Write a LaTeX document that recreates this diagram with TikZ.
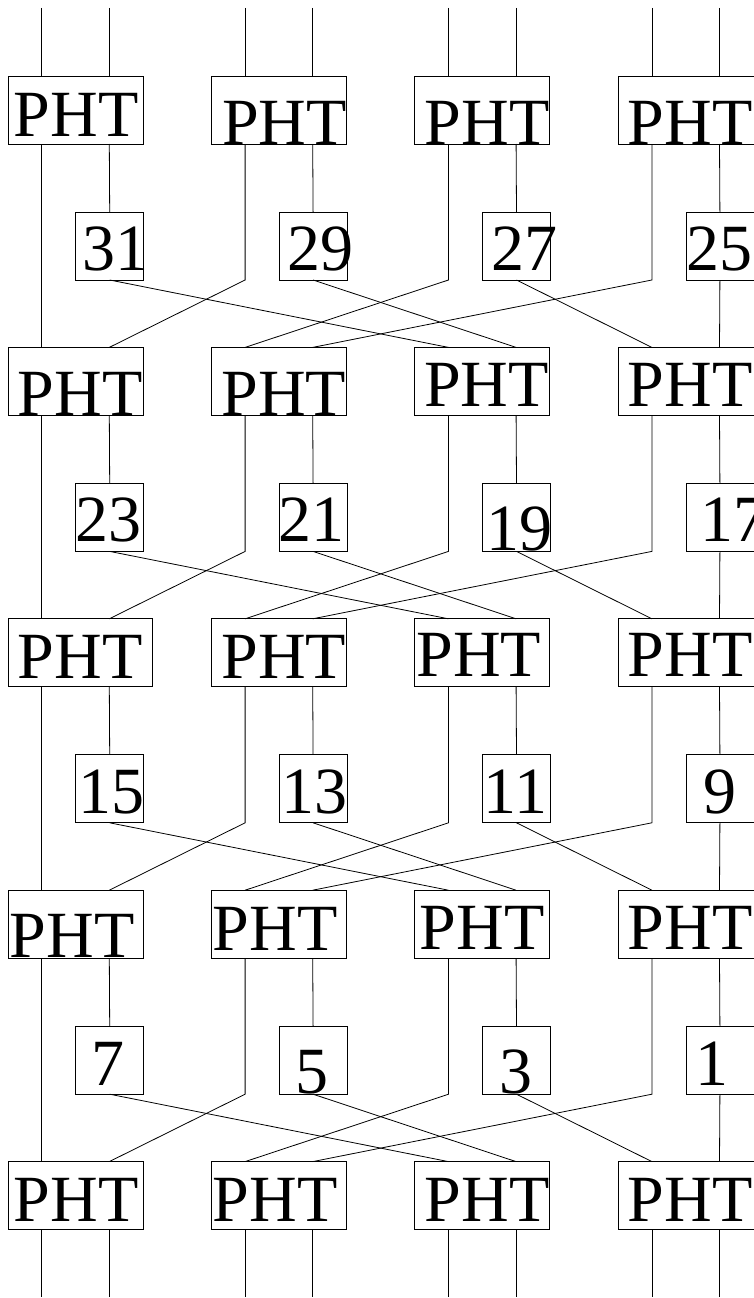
\documentclass[tikz,border=0pt]{standalone}
\usepackage{fontspec}
\setmainfont{Liberation Serif}
\begin{document}
\begin{tikzpicture}[x=1pt,y=-1pt,
  box/.style={draw, rectangle, inner sep=0pt, outer sep=0pt, line width=0.8pt, anchor=north west},
  phtbox/.style={box, minimum width=135pt, minimum height=68pt},
  widebox/.style={box, minimum width=144pt, minimum height=68pt},
  edgebox/.style={box, minimum width=137pt, minimum height=68pt},
  numbox/.style={box, minimum width=68pt, minimum height=68pt},
  edgenum/.style={box, minimum width=69.5pt, minimum height=68pt},
  lbl/.style={inner sep=0pt, outer sep=0pt, anchor=base, font=\fontsize{66}{66}\selectfont},
  wire/.style={line width=0.8pt}]
\useasboundingbox (0,0) rectangle (754,1298);
% PHT boxes
\node[phtbox] (p-1-1) at (8,76) {};
\node[phtbox] (p-1-2) at (211.4,76) {};
\node[phtbox] (p-1-3) at (414.8,76) {};
\node[edgebox] (p-1-4) at (618.2,76) {};
\node[phtbox] (p-2-1) at (8,347.4) {};
\node[phtbox] (p-2-2) at (211.4,347.4) {};
\node[phtbox] (p-2-3) at (414.8,347.4) {};
\node[edgebox] (p-2-4) at (618.2,347.4) {};
\node[widebox] (p-3-1) at (8,618.8) {};
\node[phtbox] (p-3-2) at (211.4,618.8) {};
\node[phtbox] (p-3-3) at (414.8,618.8) {};
\node[edgebox] (p-3-4) at (618.2,618.8) {};
\node[phtbox] (p-4-1) at (8,890.2) {};
\node[phtbox] (p-4-2) at (211.4,890.2) {};
\node[phtbox] (p-4-3) at (414.8,890.2) {};
\node[edgebox] (p-4-4) at (618.2,890.2) {};
\node[phtbox] (p-5-1) at (8,1161.6) {};
\node[phtbox] (p-5-2) at (211.4,1161.6) {};
\node[phtbox] (p-5-3) at (414.8,1161.6) {};
\node[edgebox] (p-5-4) at (618.2,1161.6) {};
% number boxes
\foreach \r/\y in {1/212,2/483.4,3/754.8,4/1026.2}{
  \foreach \c/\x in {1/75.7,2/279.1,3/482.5}{
    \node[numbox] (n-\r-\c) at (\x,\y) {};
  }
  \node[edgenum] (n-\r-4) at (685.9,\y) {};
}
% PHT labels
\node[lbl] (t-1-1) at (76,136.7) {PHT};
\node[lbl] (t-1-2) at (284.5,144) {PHT};
\node[lbl] (t-1-3) at (487,144) {PHT};
\node[lbl] (t-1-4) at (690,144) {PHT};
\node[lbl] (t-2-1) at (80,415) {PHT};
\node[lbl] (t-2-2) at (283.7,415) {PHT};
\node[lbl] (t-2-3) at (486.5,406) {PHT};
\node[lbl] (t-2-4) at (690,406) {PHT};
\node[lbl] (t-3-1) at (80,678) {PHT};
\node[lbl] (t-3-2) at (283.8,678) {PHT};
\node[lbl] (t-3-3) at (478.7,676) {PHT};
\node[lbl] (t-3-4) at (690,676) {PHT};
\node[lbl] (t-4-1) at (72,957.7) {PHT};
\node[lbl] (t-4-2) at (275.3,950) {PHT};
\node[lbl] (t-4-3) at (482,949) {PHT};
\node[lbl] (t-4-4) at (690,949) {PHT};
\node[lbl] (t-5-1) at (76,1221) {PHT};
\node[lbl] (t-5-2) at (275,1221.7) {PHT};
\node[lbl] (t-5-3) at (487,1221.7) {PHT};
\node[lbl] (t-5-4) at (690,1221.7) {PHT};
% number labels
\node[lbl] (m-1-1) at (115,270.7) {31};
\node[lbl] (m-1-2) at (320.8,270.7) {29};
\node[lbl] (m-1-3) at (524,270.7) {27};
\node[lbl] (m-1-4) at (719,270.7) {25};
\node[lbl] (m-2-1) at (108,541.7) {23};
\node[lbl] (m-2-2) at (311,541.7) {21};
\node[lbl] (m-2-3) at (519,550) {19};
\node[lbl] (m-2-4) at (733,541.7) {17};
\node[lbl] (m-3-1) at (111,813) {15};
\node[lbl] (m-3-2) at (314,813) {13};
\node[lbl] (m-3-3) at (515.5,813) {11};
\node[lbl] (m-3-4) at (720,813) {9};
\node[lbl] (m-4-1) at (108,1085) {7};
\node[lbl] (m-4-2) at (312,1093.3) {5};
\node[lbl] (m-4-3) at (516,1093.3) {3};
\node[lbl] (m-4-4) at (712,1085) {1};
% input and output wires
\foreach \c in {1,2,3,4}{
  \coordinate (in-\c-a) at ([xshift=33.7pt,yshift=68pt]p-1-\c.north west);
  \coordinate (in-\c-b) at ([xshift=101.3pt,yshift=68pt]p-1-\c.north west);
  \draw[wire] (in-\c-a) -- ([xshift=33.7pt]p-1-\c.north west);
  \draw[wire] (in-\c-b) -- ([xshift=101.3pt]p-1-\c.north west);
  \coordinate (out-\c-a) at ([xshift=33.7pt,yshift=-67.4pt]p-5-\c.south west);
  \coordinate (out-\c-b) at ([xshift=101.3pt,yshift=-67.4pt]p-5-\c.south west);
  \draw[wire] ([xshift=33.7pt]p-5-\c.south west) -- (out-\c-a);
  \draw[wire] ([xshift=101.3pt]p-5-\c.south west) -- (out-\c-b);
}
% rounds
\foreach \r [evaluate=\r as \s using int(\r+1)] in {1,2,3,4}{
  \foreach \c in {1,2,3,4}{
    \draw[wire] ([xshift=101.3pt]p-\r-\c.south west) -- ([xshift=34pt]n-\r-\c.north west);
  }
  \draw[wire] ([xshift=33.7pt]p-\r-1.south west) -- ([xshift=33.7pt]p-\s-1.north west);
  \draw[wire] ([xshift=33.7pt]p-\r-2.south west) -- ++(0,136) -- ([xshift=101.3pt]p-\s-1.north west);
  \draw[wire] ([xshift=33.7pt]p-\r-3.south west) -- ++(0,136) -- ([xshift=33.7pt]p-\s-2.north west);
  \draw[wire] ([xshift=33.7pt]p-\r-4.south west) -- ++(0,136) -- ([xshift=101.3pt]p-\s-2.north west);
  \draw[wire] ([xshift=34pt]n-\r-1.south west) -- ([xshift=33.7pt]p-\s-3.north west);
  \draw[wire] ([xshift=34pt]n-\r-2.south west) -- ([xshift=101.3pt]p-\s-3.north west);
  \draw[wire] ([xshift=34pt]n-\r-3.south west) -- ([xshift=33.7pt]p-\s-4.north west);
  \draw[wire] ([xshift=34pt]n-\r-4.south west) -- ([xshift=101.3pt]p-\s-4.north west);
}
\end{tikzpicture}
\end{document}
